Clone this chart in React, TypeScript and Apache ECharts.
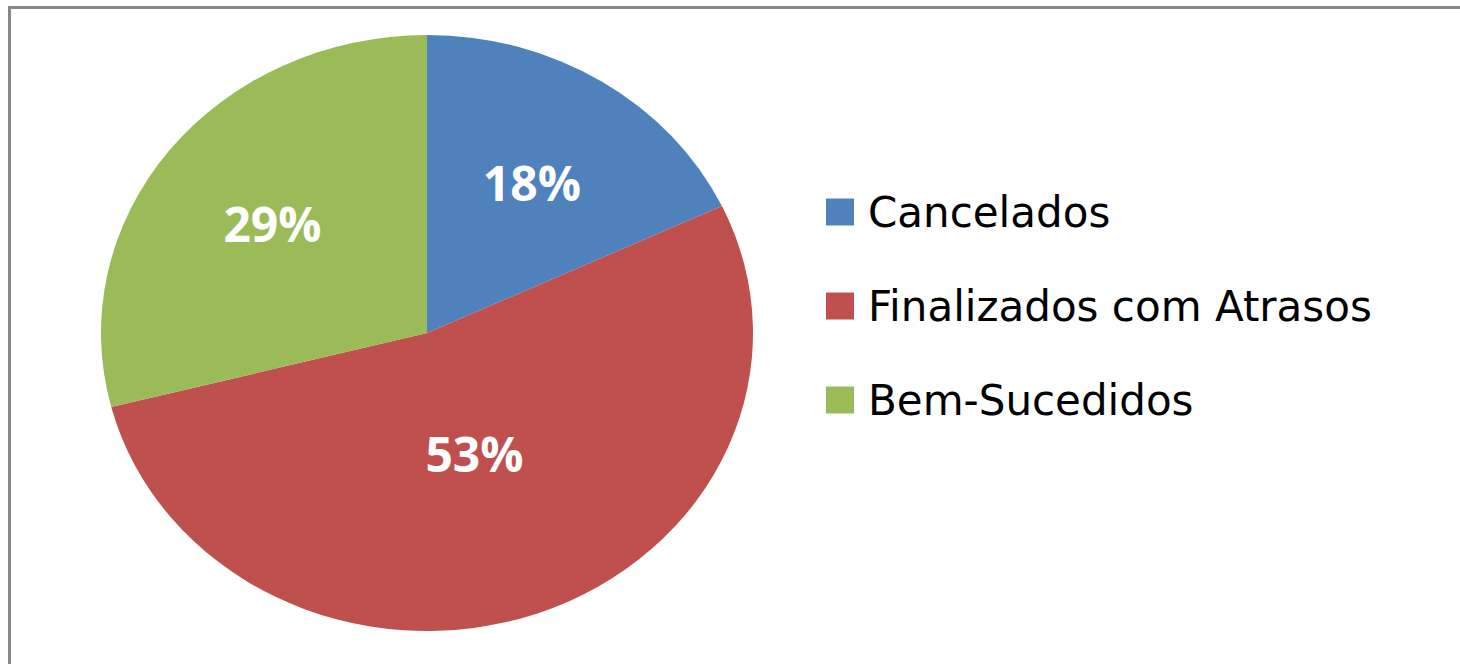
import React, { useEffect, useRef } from "react";
import * as echarts from "echarts";

const categories = ["Cancelados", "Finalizados com Atrasos", "Bem-Sucedidos"];
const values = [18, 53, 29];
const colors = ["#4F81BD", "#C0504D", "#9BBB59"];

// layout (style) constants
const CX = 427;
const CY = 333;
const RX = 326;
const RY = 298;
const LABEL_FRAC = [0.6, 0.43, 0.6];

export default function App() {
  const ref = useRef<HTMLDivElement>(null);
  useEffect(() => {
    document.body.style.overflow = "hidden";
    const chart = echarts.init(ref.current!, null, { renderer: "svg" });
    const total = values.reduce((a, b) => a + b, 0);
    const starts: number[] = [];
    let acc = 0;
    values.forEach((v) => {
      starts.push(acc);
      acc += v;
    });
    const pt = (t: number) => [CX + RX * Math.cos(t), CY + RY * Math.sin(t)];
    const series = categories.map((name, i) => ({
      type: "custom",
      name,
      coordinateSystem: "none",
      itemStyle: { color: colors[i] },
      data: [[values[i]]],
      renderItem: (params: any, api: any) => {
        const v = api.value(0);
        const a0 = -Math.PI / 2 + (starts[i] / total) * Math.PI * 2;
        const a1 = a0 + (v / total) * Math.PI * 2;
        const p0 = pt(a0);
        const p1 = pt(a1);
        const large = a1 - a0 > Math.PI ? 1 : 0;
        const d = `M${CX} ${CY} L${p0[0]} ${p0[1]} A${RX} ${RY} 0 ${large} 1 ${p1[0]} ${p1[1]} Z`;
        const am = (a0 + a1) / 2;
        const f = LABEL_FRAC[i];
        const lx = CX + RX * f * Math.cos(am);
        const ly = CY + RY * f * Math.sin(am);
        return {
          type: "group",
          children: [
            {
              type: "path",
              shape: { pathData: d },
              style: { fill: colors[i], lineWidth: 0 },
            },
            {
              type: "text",
              x: lx,
              y: ly,
              style: {
                text: Math.round((v / total) * 100) + "%",
                fill: "#ffffff",
                font: "bold 48px 'Open Sans'",
                align: "center",
                verticalAlign: "middle",
              },
            },
          ],
        };
      },
    }));
    chart.setOption({
      animation: false,
      color: colors,
      legend: {
        orient: "vertical",
        left: 821,
        top: 186,
        icon: "rect",
        itemWidth: 28,
        itemHeight: 27,
        itemGap: 52,
        data: categories,
        selectedMode: false,
        textStyle: {
          fontFamily: "DejaVu Sans",
          fontSize: 42,
          color: "#000000",
          lineHeight: 42,
          padding: [0, 0, 0, 9],
        },
      },
      series,
    });
    return () => chart.dispose();
  }, []);
  return (
    <div>
      <div
        style={{
          position: "absolute",
          left: 8,
          top: 6,
          width: 1460,
          height: 700,
          borderTop: "3px solid #888888",
          borderLeft: "3px solid #888888",
          boxSizing: "border-box",
        }}
      />
      <div
        ref={ref}
        style={{ position: "absolute", left: 0, top: 0, width: 1460, height: 664 }}
      />
    </div>
  );
}
